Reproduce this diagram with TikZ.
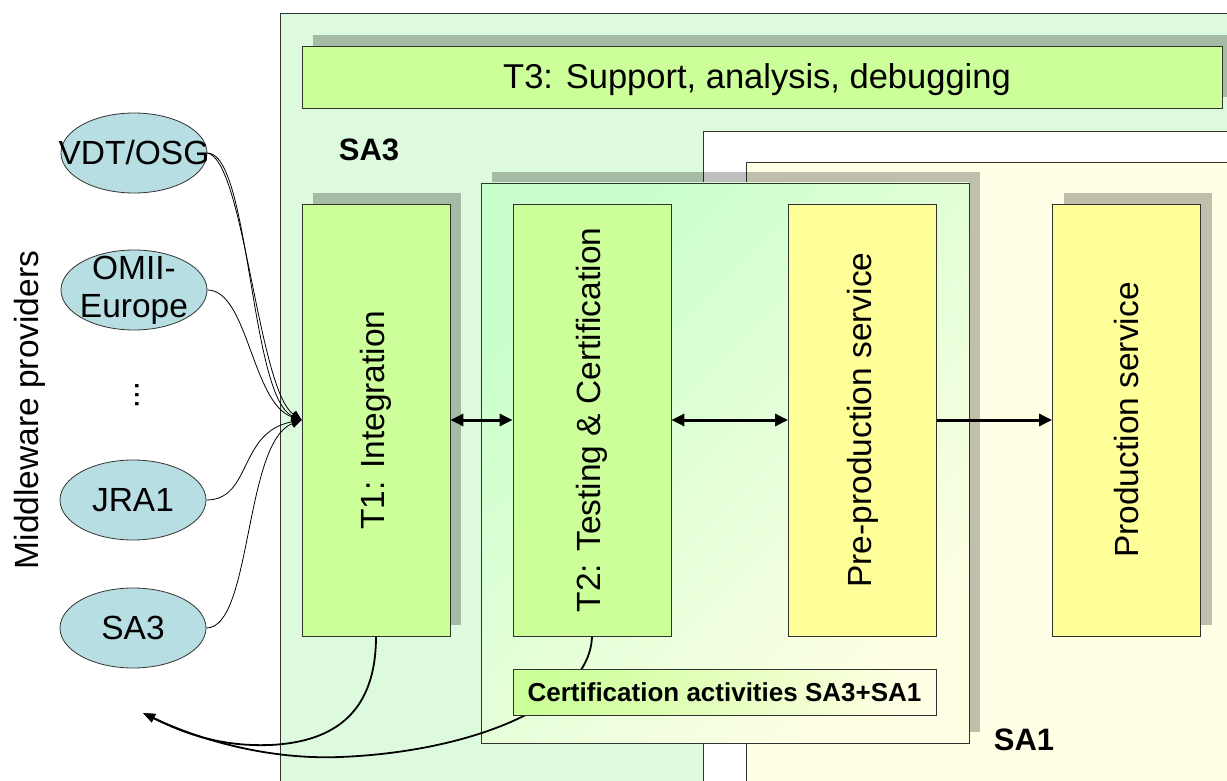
\documentclass[tikz,border=0pt]{standalone}
\usepackage{fontspec}
\setmainfont{Liberation Sans}
\usetikzlibrary{arrows.meta,shapes.geometric,shadows}

\definecolor{sathreebg}{RGB}{222,250,222}
\definecolor{saonebg}{RGB}{255,255,230}
\definecolor{taskgreen}{RGB}{204,255,153}
\definecolor{taskyellow}{RGB}{255,255,153}
\definecolor{providerfill}{RGB}{183,222,226}
\definecolor{edgegray}{RGB}{50,50,50}
\definecolor{certtop}{RGB}{200,255,204}
\definecolor{certbottom}{RGB}{255,255,228}

\newcommand\diagfont{\fontsize{33.5}{38}\selectfont}
\newcommand\bannerfont{\fontsize{34.5}{40}\selectfont}
\newcommand\diagbold{\fontsize{31}{36}\selectfont\bfseries}
\newcommand\smallbold{\fontsize{26}{30}\selectfont\bfseries}

\tikzset{
  frame/.style={draw=edgegray, line width=0.8pt},
  boxshadow/.style={drop shadow={shadow xshift=11pt, shadow yshift=11pt,
      fill=black, opacity=0.25}},
  task/.style={frame, rectangle, inner sep=0pt,
      minimum width=148pt, minimum height=432pt},
  greentask/.style={task, fill=taskgreen},
  yellowtask/.style={task, fill=taskyellow},
  vtext/.style={rotate=90, font=\diagfont, inner sep=0pt},
  provider/.style={ellipse, frame, fill=providerfill,
      minimum width=146pt, minimum height=80pt, inner sep=0pt},
  feed/.style={draw=black, line width=0.8pt,
      -{Triangle[length=10pt,width=9pt]}},
  link/.style={draw=black, line width=3pt,
      {Triangle[length=13pt,width=12pt]}-{Triangle[length=13pt,width=12pt]}},
  onelink/.style={draw=black, line width=3pt,
      -{Triangle[length=13pt,width=12pt]}},
  back/.style={draw=black, line width=1.8pt,
      -{Triangle[length=12pt,width=9pt]}},
}

\begin{document}
\begin{tikzpicture}[x=1pt, y=-1pt]
  \useasboundingbox (0,0) rectangle (1227,781);
  \clip (0,0) rectangle (1227,781);

  % activity areas
  \draw[frame, fill=sathreebg] (280,13) rectangle (1250,800);
  \node[frame, fill=taskgreen, boxshadow, minimum width=920pt, minimum height=62pt,
        inner sep=0pt] (t3) at (762,77) {};
  \node[font=\bannerfont, inner sep=0pt] at (757,80) {T3: Support, analysis, debugging};
  \node[font=\diagbold] (sa3) at (369,150) {SA3};
  \draw[frame, fill=white] (703,131) rectangle (1250,800);
  \draw[frame, fill=saonebg] (746,162) rectangle (1250,800);
  \node[font=\diagbold] (sa1) at (1024,740) {SA1};

  % shared certification area
  \node[frame, boxshadow, top color=certtop, bottom color=certbottom, shading angle=45,
        minimum width=488pt, minimum height=560pt, inner sep=0pt] (cert) at (725,463) {};

  % tasks and services
  \node[greentask, boxshadow] (t1) at (376,420) {};
  \node[vtext] at (t1) {T1: Integration};
  \node[greentask, minimum width=158pt] (t2) at (592,420) {};
  \node[vtext] at (t2) {T2: Testing \& Certification};
  \node[yellowtask] (pps) at (862.5,420) {};
  \node[vtext] at (pps) {Pre-production service};
  \node[yellowtask, boxshadow] (ps) at (1126.5,420) {};
  \node[vtext] at (ps) {Production service};

  \draw[link] (t1.east) -- (t2.west);
  \draw[link] (t2.east) -- (pps.west);
  \draw[onelink] (pps.east) -- (ps.west);

  % middleware providers
  \node[rotate=90, font=\diagfont] (mwp) at (30,410) {Middleware providers};
  \node[provider] (vdt) at (134,153) {};
  \node[font=\diagfont, inner sep=0pt] at (vdt) {VDT/OSG};
  \node[provider] (omii) at (134,290) {};
  \node[font=\diagfont, inner sep=0pt, align=center] at (omii) {OMII-\\Europe};
  \node[rotate=-90, font=\diagfont, inner sep=0pt] (dots) at (137,395) {...};
  \node[provider] (jra) at (133,500) {};
  \node[font=\diagfont, inner sep=0pt] at (jra) {JRA1};
  \node[provider] (sathree) at (133,628) {};
  \node[font=\diagfont, inner sep=0pt] at (sathree) {SA3};

  \draw[feed] (vdt.east) .. controls (250,153) and (250,398) .. (t1.west);
  \draw[feed] (vdt.east) .. controls (244,160) and (258,390) .. (t1.west);
  \draw[feed] (omii.east) .. controls (248,290) and (252,404) .. (t1.west);
  \draw[feed] (jra.east) .. controls (252,500) and (238,432) .. (t1.west);
  \draw[feed] (sathree.east) .. controls (252,628) and (244,442) .. (t1.west);

  % feedback to the providers
  \coordinate (ret) at (143,713);
  \draw[back] (t1.south) .. controls (376,712) and (335,742) .. (270,745)
              .. controls (215,747) and (178,730) .. (ret);
  \draw[back] (t2.south) .. controls (590,705) and (470,752) .. (340,757)
              .. controls (265,760) and (195,738) .. (ret);

  \node[frame, top color=taskgreen, bottom color=certbottom, shading angle=75,
        minimum width=423pt, minimum height=46pt, inner sep=0pt,
        font=\smallbold] (certact) at (724.5,692) {Certification activities SA3+SA1};
\end{tikzpicture}
\end{document}
